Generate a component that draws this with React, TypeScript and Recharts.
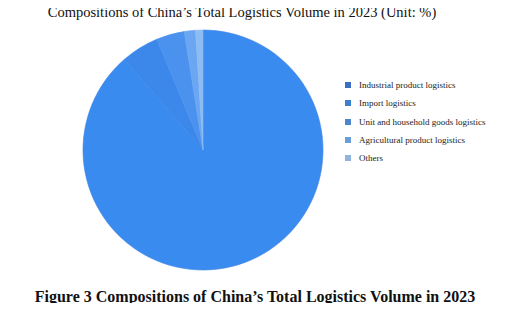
import { PieChart, Pie, Cell, Legend } from 'recharts';

// 2023 物流总额构成 (%)
const CATEGORIES = [
  'Industrial product logistics',
  'Import logistics',
  'Unit and household goods logistics',
  'Agricultural product logistics',
  'Others',
];
const SHARES = [88.7, 5.1, 3.8, 1.5, 1.0];
const SLICE_COLORS = ['#3a8bef', '#3c88ea', '#4a92ee', '#6aa6f1', '#8dbcf4'];
const LEGEND_COLORS = ['#3b6fc6', '#3c7fcc', '#4d86cc', '#6b9ed5', '#8fb4e0'];

const TITLE = 'Compositions of China\u2019s Total Logistics Volume in 2023 (Unit: %)';
const CAPTION = 'Figure 3 Compositions of China\u2019s Total Logistics Volume in 2023';

const data = CATEGORIES.map((name, i) => ({ name, value: SHARES[i] }));

function LegendList() {
  return (
    <div style={{ fontFamily: '"Liberation Serif", "DejaVu Serif", serif', fontSize: 9, color: '#222' }}>
      {CATEGORIES.map((c, i) => (
        <div key={c} style={{ display: 'flex', alignItems: 'center', height: 18.3 }}>
          <span
            style={{
              display: 'inline-block',
              width: 6,
              height: 6,
              background: LEGEND_COLORS[i],
              marginRight: 8,
            }}
          />
          {c}
        </div>
      ))}
    </div>
  );
}

export default function App() {
  return (
    <div style={{ position: 'relative', width: 510, height: 311, margin: -8, background: '#fff' }}>
      <div
        style={{
          position: 'absolute',
          left: 0,
          top: 4,
          width: 484,
          textAlign: 'center',
          fontFamily: '"Liberation Serif", serif',
          fontSize: 14.5,
          color: '#111',
        }}
      >
        {TITLE}
      </div>
      <PieChart width={510} height={311} style={{ position: 'absolute', left: 0, top: 0 }}>
        <Pie
          data={data}
          dataKey="value"
          nameKey="name"
          cx={198}
          cy={145}
          outerRadius={120}
          startAngle={90}
          endAngle={-270}
          stroke="#3f86e6"
          strokeWidth={0.6}
          isAnimationActive={false}
        >
          {data.map((d, i) => (
            <Cell key={d.name} fill={SLICE_COLORS[i]} stroke={i === 0 ? '#3a82e2' : SLICE_COLORS[i]} />
          ))}
        </Pie>
        <Legend
          layout="vertical"
          content={() => <LegendList />}
          wrapperStyle={{ position: 'absolute', left: 345, top: 76, width: 170 }}
        />
      </PieChart>
      <div
        style={{
          position: 'absolute',
          left: 0,
          top: 288,
          width: 510,
          textAlign: 'center',
          fontFamily: '"Liberation Serif", serif',
          fontWeight: 'bold',
          fontSize: 16,
          color: '#111',
        }}
      >
        {CAPTION}
      </div>
    </div>
  );
}
